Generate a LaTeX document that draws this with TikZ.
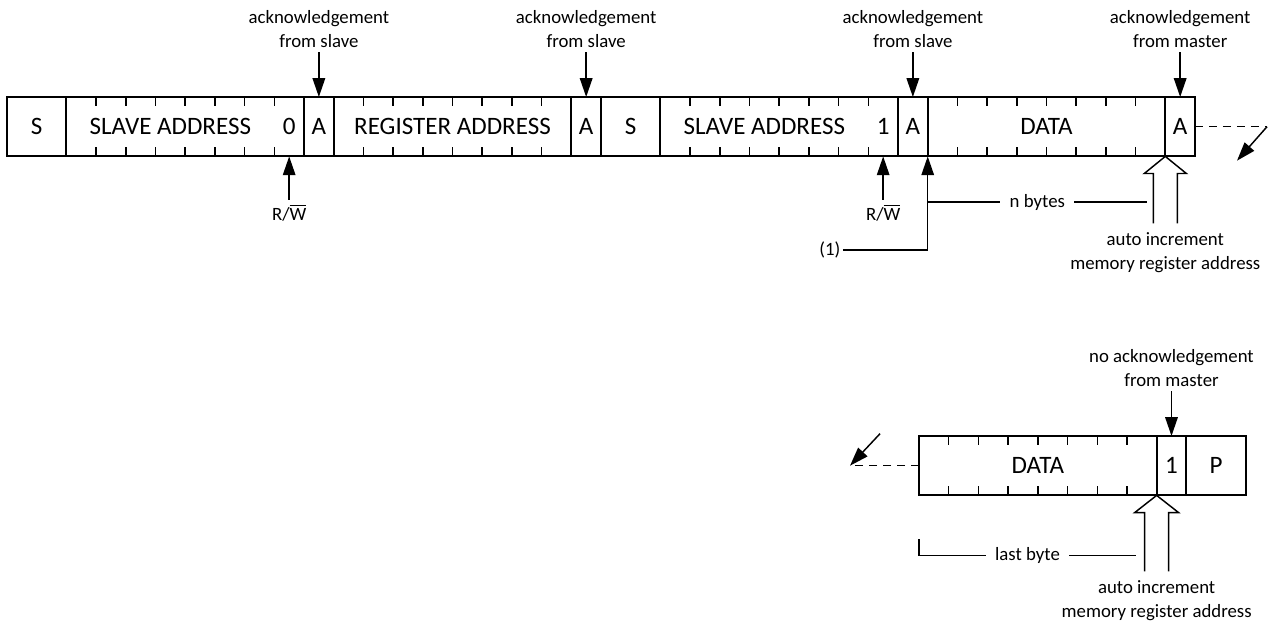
\documentclass[tikz,border=0pt]{standalone}
\usepackage{fontspec}
\setmainfont{Carlito}
\usepackage{tikz}
\usetikzlibrary{arrows.meta, calc, positioning}

\begin{document}
\begin{tikzpicture}[
  field/.style={draw, line width=0.9pt, minimum height=1cm, minimum width=#1,
    inner sep=0pt, outer sep=0pt, font=\fontsize{12}{14}\selectfont},
  field/.default=0.5cm,
  txt/.style={inner sep=0pt, font=\fontsize{12}{14}\selectfont},
  note/.style={font=\fontsize{9}{11.5}\selectfont, align=center, inner sep=2pt},
  ptr/.style={line width=0.7pt, -{Triangle[length=9pt,width=6pt]}},
  tick/.style={line width=0.7pt},
  brk/.style={line width=0.7pt, dash pattern=on 3.8pt off 2.9pt},
  hollow/.style={line width=0.7pt, line join=miter},
  node distance=0pt
]
\useasboundingbox (-0.118,1.633) rectangle (21.33,-8.822);

% first frame
\node[field=1cm, anchor=north west] (s1) at (0,0) {S};
\node[field=4cm, right=of s1] (sa1) {};
\node[field, right=of sa1] (a1) {A};
\node[field=4cm, right=of a1] (ra) {REGISTER ADDRESS};
\node[field, right=of ra] (a2) {A};
\node[field=1cm, right=of a2] (s2) {S};
\node[field=4cm, right=of s2] (sa2) {};
\node[field, right=of sa2] (a3) {A};
\node[field=4cm, right=of a3] (dt1) {DATA};
\node[field, right=of dt1] (a4) {A};
\node[txt] (sa1t) at ([xshift=-0.25cm]sa1.center) {SLAVE ADDRESS};
\node[txt] (sa1b) at ([xshift=-0.25cm]sa1.east) {0};
\node[txt] (sa2t) at ([xshift=-0.25cm]sa2.center) {SLAVE ADDRESS};
\node[txt] (sa2b) at ([xshift=-0.25cm]sa2.east) {1};

% second frame
\node[field=4cm, anchor=north west] (dt2) at (15.354,-5.707) {DATA};
\node[field, right=of dt2] (n1) {1};
\node[field=1cm, right=of n1] (p1) {P};

% bit ticks
\foreach \f in {sa1, ra, sa2, dt1, dt2}
  \foreach \i in {1,...,7} {
    \draw[tick] ($(\f.north west)!\i/8!(\f.north east)$) -- ++(0,-0.155);
    \draw[tick] ($(\f.south west)!\i/8!(\f.south east)$) -- ++(0,0.155);
  }

% acknowledge arrows
\foreach \f/\t in {a1/acknowledgement\\from slave, a2/acknowledgement\\from slave,
    a3/acknowledgement\\from slave, a4/acknowledgement\\from master,
    n1/no acknowledgement\\from master} {
  \coordinate (\f-ack) at ([yshift=0.75cm]\f.north);
  \node[note, anchor=south] (\f-lbl) at (\f-ack) {\t};
  \draw[ptr] (\f-ack) -- (\f.north);
}

% read / write bit
\foreach \f in {sa1, sa2} {
  \coordinate (\f-bit) at ([xshift=-0.25cm]\f.south east);
  \coordinate (\f-rw) at ([yshift=-0.734cm]\f-bit);
  \node[note, anchor=north] (\f-rwl) at (\f-rw) {R/$\overline{\hbox{W}}$};
  \draw[ptr] (\f-rw) -- (\f-bit);
}

% (1) and n bytes
\coordinate (bend1) at ([yshift=-1.576cm]dt1.south west);
\node[note, anchor=east, inner sep=1pt] (onel) at (14.07,-2.576) {(1)};
\draw[ptr] (onel.east) -- (bend1) -- (dt1.south west);
\coordinate (nb1) at ([yshift=-0.768cm]dt1.south west);
\coordinate (nb2) at (19.19,-1.768);
\draw[tick] (nb1) -- node[note, fill=white, inner sep=4.5pt] (nbl) {n bytes} (nb2);

% auto increment
\coordinate (inc1) at (dt1.south east);
\draw[hollow] ([shift={(-0.202,-1.128)}]inc1) -- ++(0,0.84) -- ++(-0.152,0) -- (inc1)
  -- ++(0.354,-0.288) -- ++(-0.152,0) -- ++(0,-0.84);
\node[note, anchor=north] (inc1l) at ([yshift=-1.2cm]inc1) {auto increment\\memory register address};
\coordinate (inc2) at (dt2.south east);
\draw[hollow] ([shift={(-0.202,-1.28)}]inc2) -- ++(0,0.99) -- ++(-0.168,0) -- (inc2)
  -- ++(0.37,-0.29) -- ++(-0.168,0) -- ++(0,-0.99);
\node[note, anchor=north] (inc2l) at ([yshift=-1.35cm]inc2) {auto increment\\memory register address};

% last byte
\coordinate (lb1) at ([yshift=-0.741cm]dt2.south west);
\coordinate (lb2) at ([yshift=-1.01cm]dt2.south west);
\coordinate (lb3) at ([xshift=3.653cm]lb2);
\draw[tick] (lb1) -- (lb2) -- node[note, fill=white, inner sep=4.5pt] (lbl) {last byte} (lb3);

% continuation
\coordinate (brk1) at ([xshift=1.212cm]a4.east);
\coordinate (brk1tip) at ([shift={(-0.505,-0.572)}]brk1);
\draw[brk] (a4.east) -- (brk1);
\draw[ptr] (brk1) -- (brk1tip);
\coordinate (brk2) at ([xshift=-1.162cm]dt2.west);
\coordinate (brk2from) at ([shift={(0.505,0.539)}]brk2);
\draw[brk] (dt2.west) -- (brk2);
\draw[ptr] (brk2from) -- (brk2);
\end{tikzpicture}
\end{document}
